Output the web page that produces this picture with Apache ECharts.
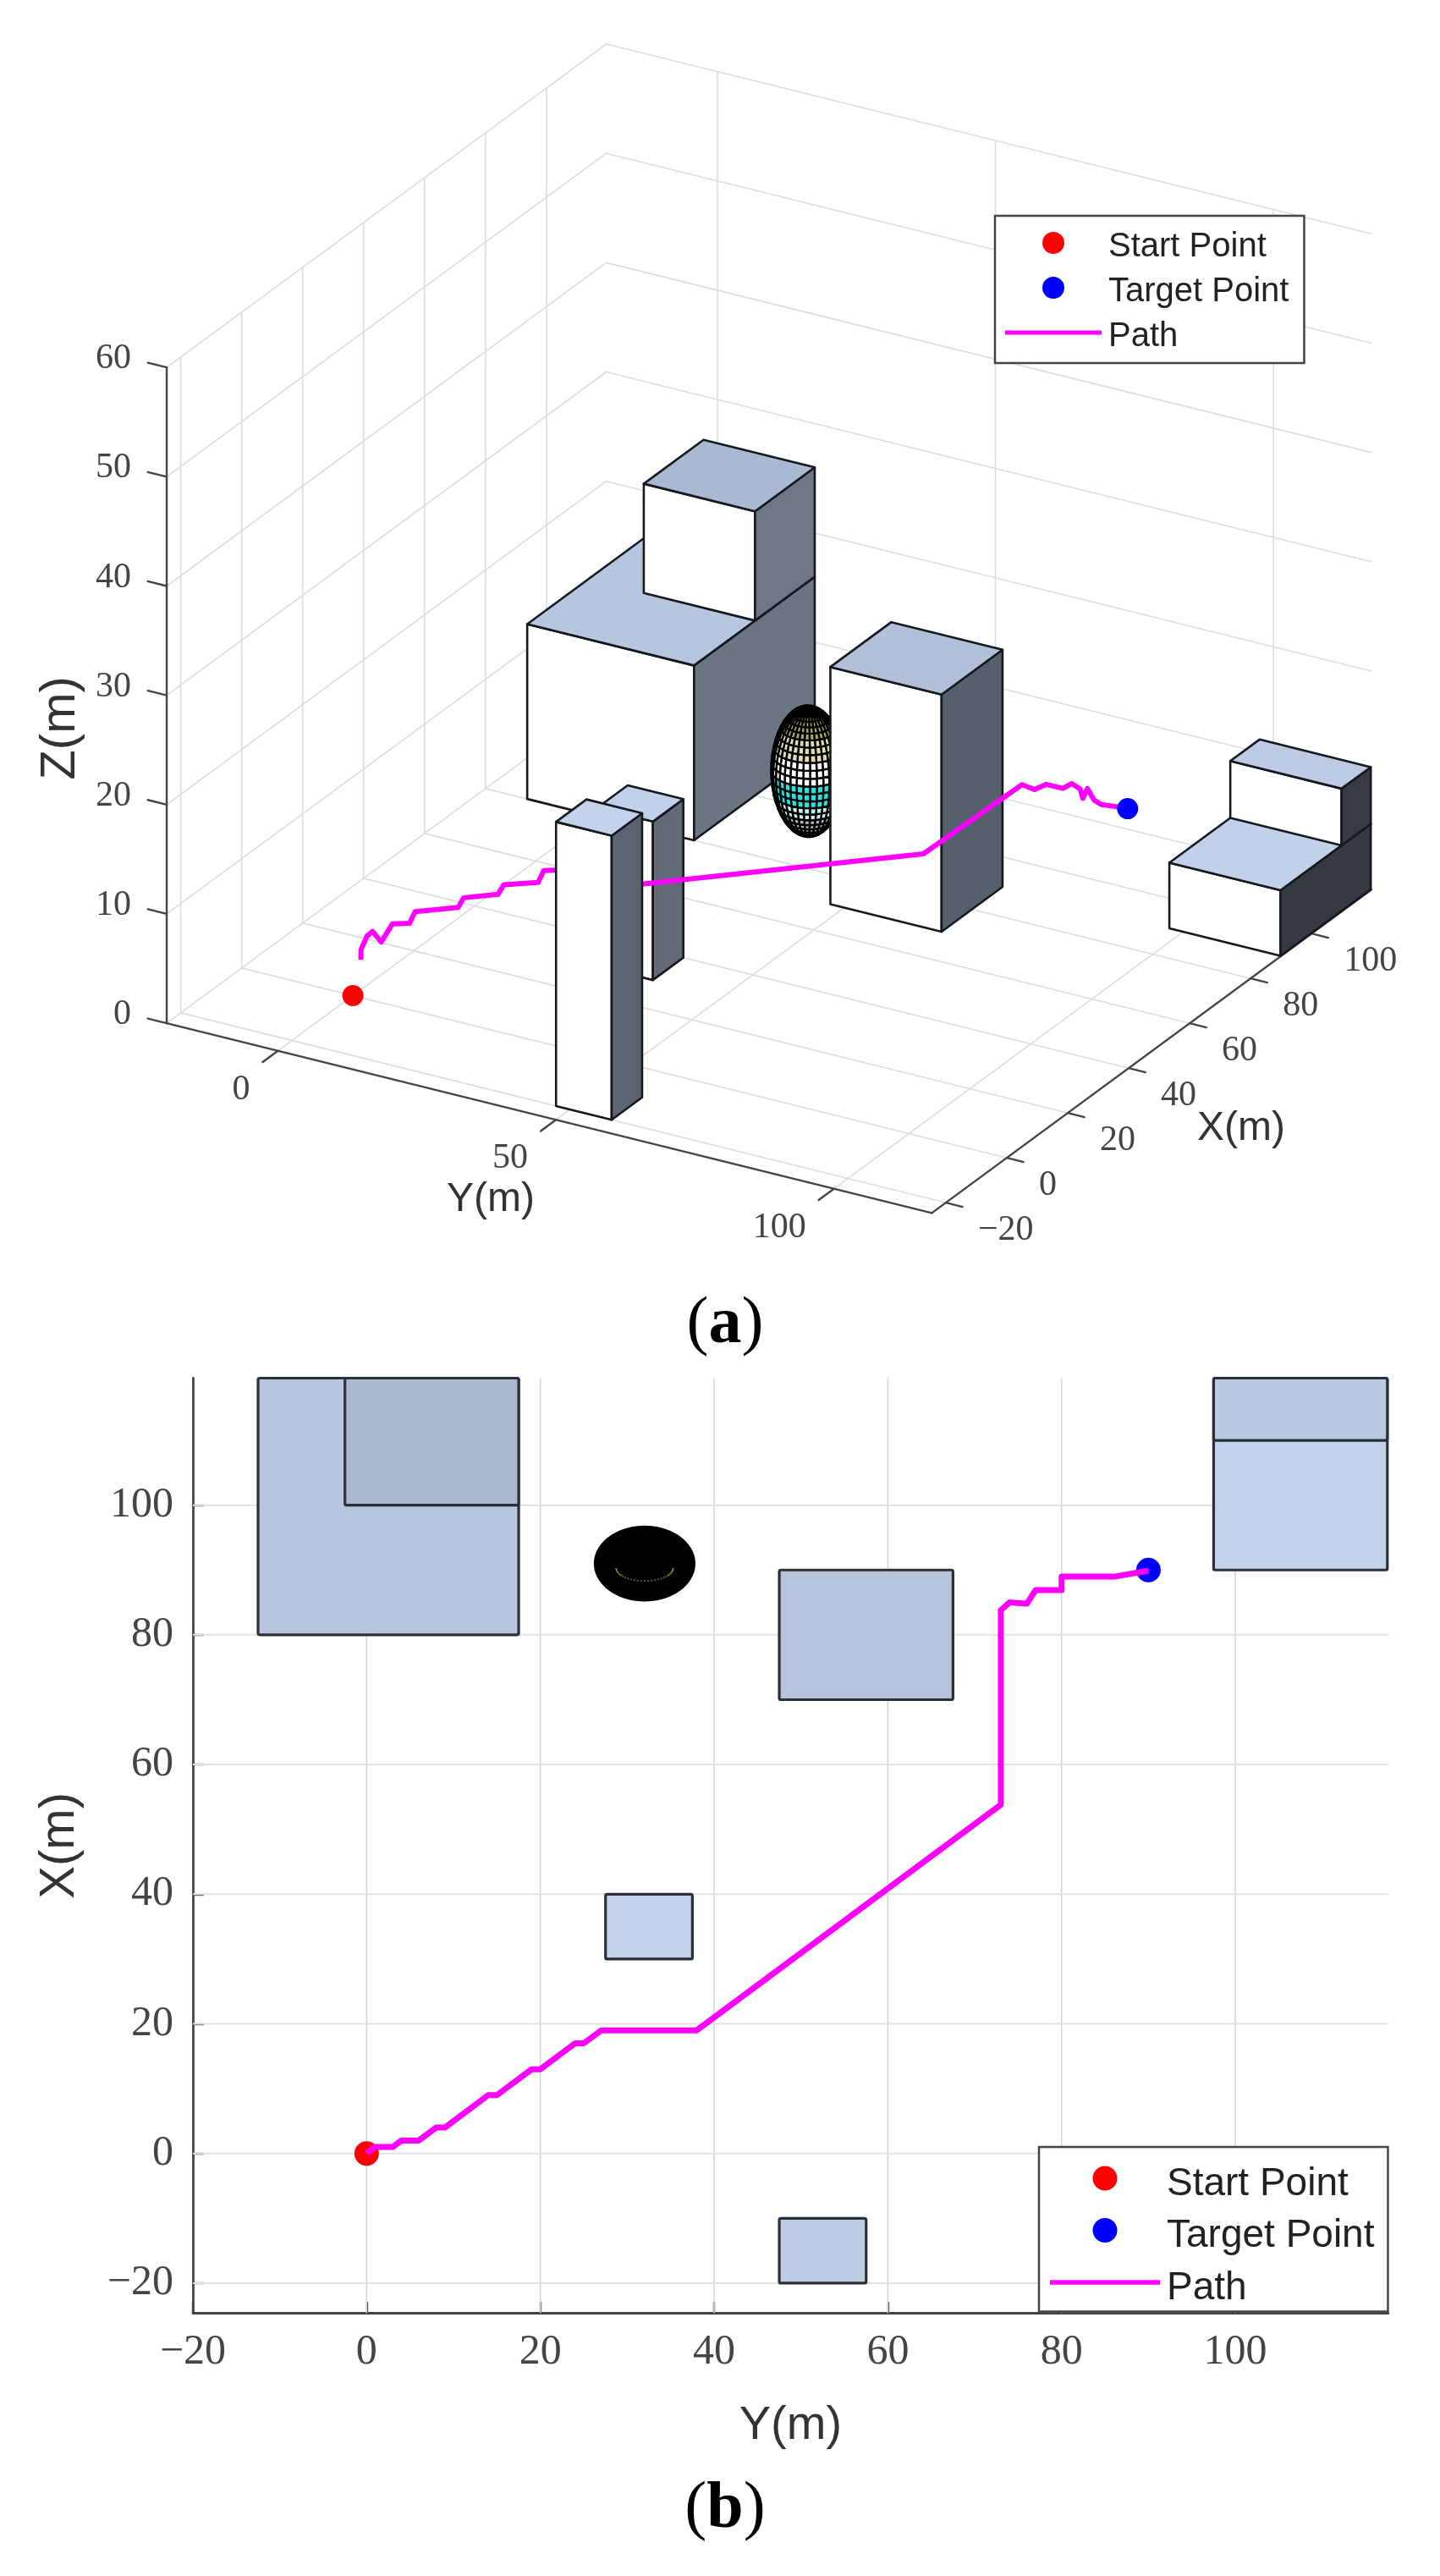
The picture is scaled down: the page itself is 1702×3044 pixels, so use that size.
<!DOCTYPE html>
<html>
<head>
<meta charset="utf-8">
<style>html,body{margin:0;padding:0;background:#fff}#chart{width:1702px;height:3044px;filter:blur(0.6px)}</style>
<script src="https://cdn.jsdelivr.net/npm/echarts@6/dist/echarts.min.js"></script>
</head>
<body>
<div id="chart"></div>
<script>
// ---------- data ----------
const legendNames = ['Start Point', 'Target Point', 'Path'];
// axis limits (metres)
const yLimits = [-20, 117.6];
const xLimits = [-24.6, 119.6];
const zLimits = [0, 60];
// tick values
const yTicksTop = [0, 50, 100];
const xTicksTop = [-20, 0, 20, 40, 60, 80, 100];
const zTicksTop = [0, 10, 20, 30, 40, 50, 60];
const yTicksPlan = [-20, 0, 20, 40, 60, 80, 100];
const xTicksPlan = [-20, 0, 20, 40, 60, 80, 100];
// obstacles: painter order, back to front
const boxYMin = [-12.5, -2.5, 47.5, 97.5, 97.5, 27.5, 47.5];
const boxYMax = [17.5, 17.5, 67.5, 117.5, 117.5, 37.5, 57.5];
const boxXMin = [80, 100, 70, 90, 110, 30, -20];
const boxXMax = [119.6, 119.6, 90, 119.6, 119.6, 40, -10];
const boxZMin = [0, 16, 0, 0, 6, 0, 0];
const boxZMax = [16, 26, 21.7, 6, 11.2, 14.5, 26];
// spherical obstacle
const sphereCentre = [91, 32, 5.9]; // X, Y, Z
const sphereRadius = 5.85;
// start and target
const startPoint = [0, 0, 0];    // X, Y, Z
const targetPoint = [90, 90, 10]; // X, Y, Z
// path seen from above (panel b)
const planPathY = [0, 0.9, 3, 4, 6, 8, 9, 14, 15, 19, 20, 24, 25, 27, 38, 73, 73, 74, 76, 77, 80, 80, 86.2, 90];
const planPathX = [0, 1, 1, 2, 2, 4, 4, 9, 9, 13, 13, 17, 17, 19, 19, 53.8, 83.8, 85, 84.8, 86.9, 86.9, 89, 89, 89.9];
// path in perspective (panel a)
const pathY = [0.9, 0.9, 2, 3, 4, 6, 8, 9, 14, 15, 19, 20, 24, 25, 27, 38, 73, 74, 76, 77, 80, 80.5, 82, 82.5, 83.3, 84.5, 85.8, 88, 90];
const pathX = [1, 1, 1, 1, 2, 2, 4, 4, 9, 9, 13, 13, 17, 17, 19, 19, 54, 84.5, 85, 87, 87, 89, 89, 89, 89, 89, 89, 89.3, 90];
const pathZ = [3.2, 4.1, 5.5, 6.05, 5, 6.9, 6.8, 8, 8, 9, 9, 10, 9.9, 11.1, 11, 10.9, 11.1, 11.3, 11, 11.2, 11.2, 11.3, 11, 10.2, 11.2, 10.3, 10.05, 10.1, 10];

// ---------- styles ----------
const topColors = ['#b7c6df', '#aab9d2', '#b2c0d7', '#c1d1e9', '#bccbe3', '#c1d1e9', '#c3d3eb'];
const sideColors = ['#6b7584', '#6d7786', '#56606c', '#363a43', '#373b44', '#626a78', '#5c6471'];
const planColors = ['#b7c6de', '#aab8ce', '#b5c4db', '#c2d2e9', '#bacae0', '#c2d2ea', '#bccce3'];
const SERIF = '"Liberation Serif"';
const SANS = '"Liberation Sans"';
const AXIS = '#444444';
const GRID = '#dddddd';

// ---------- orthographic view of panel a ----------
const view = { u0: 417.1, v0: 1176.5, ux: 3.6025, uy: 6.572, vx: -2.65, vy: 1.63, vz: -12.915 };
function project(x, y, z) {
  return [view.u0 + view.ux * x + view.uy * y, view.v0 + view.vx * x + view.vy * y + view.vz * z];
}

// custom series helper on the hidden panel-a axes
function viewSeries(name, z, rows, build) {
  return {
    type: 'custom', name, z, xAxisIndex: 1, yAxisIndex: 1, silent: true, clip: false,
    data: rows.map((_, i) => [i, 0]),
    renderItem(params, api) {
      const c = p => api.coord(project(p[0], p[1], p[2]));
      return { type: 'group', children: build(rows[params.dataIndex], c, api) };
    }
  };
}
function seg(a, b, c, color, width) {
  const p = c(a), q = c(b);
  return { type: 'line', shape: { x1: p[0], y1: p[1], x2: q[0], y2: q[1] }, style: { stroke: color, lineWidth: width, lineCap: 'round' } };
}

// ---------- panel a: walls and floor ----------
const [yLo, yHi] = yLimits, [xLo, xHi] = xLimits, [zLo, zHi] = zLimits;
const gridSegments = [];
xTicksTop.forEach(t => {
  gridSegments.push([[t, yLo, 0], [t, yHi, 0]]);
  gridSegments.push([[t, yLo, 0], [t, yLo, zHi]]);
});
yTicksTop.forEach(t => {
  gridSegments.push([[xLo, t, 0], [xHi, t, 0]]);
  gridSegments.push([[xHi, t, 0], [xHi, t, zHi]]);
});
zTicksTop.forEach(t => {
  gridSegments.push([[xLo, yLo, t], [xHi, yLo, t]]);
  gridSegments.push([[xHi, yLo, t], [xHi, yHi, t]]);
});
const axisSegments = [
  [[xLo, yLo, 0], [xLo, yLo, zHi]],
  [[xLo, yLo, 0], [xLo, yHi, 0]],
  [[xLo, yHi, 0], [xHi, yHi, 0]]
];
zTicksTop.forEach(t => axisSegments.push([[xLo, yLo, t], [xLo, yLo - 3.4, t]]));
yTicksTop.forEach(t => axisSegments.push([[xLo, t, 0], [xLo - 5, t, 0]]));
xTicksTop.forEach(t => axisSegments.push([[t, yHi, 0], [t, yHi + 3, 0]]));

const tickLabelsTop = [];
const fmt = v => (v < 0 ? '\u2212' + (-v) : String(v));
zTicksTop.forEach(t => tickLabelsTop.push({ at: [xLo, yLo, t], text: fmt(t), dx: -42, dy: -10, align: 'right' }));
yTicksTop.forEach(t => tickLabelsTop.push({ at: [xLo, t, 0], text: fmt(t), dx: -33, dy: 46, align: 'right' }));
xTicksTop.forEach(t => tickLabelsTop.push({ at: [t, yHi, 0], text: fmt(t), dx: 38, dy: 33, align: 'left' }));

function boxFaces(i, c) {
  const x0 = boxXMin[i], x1 = boxXMax[i], y0 = boxYMin[i], y1 = boxYMax[i], z0 = boxZMin[i], z1 = boxZMax[i];
  const edge = { stroke: '#15181d', lineWidth: 2.6, lineJoin: 'round' };
  const face = (pts, fill) => ({ type: 'polygon', shape: { points: pts.map(c) }, style: Object.assign({ fill }, edge) });
  return [
    face([[x0, y0, z0], [x0, y1, z0], [x0, y1, z1], [x0, y0, z1]], '#ffffff'),
    face([[x0, y1, z0], [x1, y1, z0], [x1, y1, z1], [x0, y1, z1]], sideColors[i]),
    face([[x0, y0, z1], [x0, y1, z1], [x1, y1, z1], [x1, y0, z1]], topColors[i])
  ];
}

// sphere mesh
function sphereCellColor(t) {
  if (t > 0.7) return '#a8a660';
  if (t > 0.35) return '#dedcb0';
  if (t > 0.05) return '#ffffff';
  if (t > -0.33) return '#22e6e4';
  if (t > -0.55) return '#c8f0ee';
  return '#b4b4b4';
}
const sphereRows = [];
(function () {
  const NLAT = 26, NLON = 34;
  const n = [-84.8, 46.4, 23.3], nl = Math.hypot(n[0], n[1], n[2]);
  const pt = (la, lo) => [
    sphereCentre[0] + sphereRadius * Math.cos(la) * Math.cos(lo),
    sphereCentre[1] + sphereRadius * Math.cos(la) * Math.sin(lo),
    sphereCentre[2] + sphereRadius * Math.sin(la)
  ];
  for (let i = 0; i < NLAT; i++) {
    for (let j = 0; j < NLON; j++) {
      const la0 = -Math.PI / 2 + Math.PI * i / NLAT, la1 = -Math.PI / 2 + Math.PI * (i + 1) / NLAT;
      const lo0 = 2 * Math.PI * j / NLON, lo1 = 2 * Math.PI * (j + 1) / NLON;
      const laM = (la0 + la1) / 2, loM = (lo0 + lo1) / 2;
      const d = (Math.cos(laM) * Math.cos(loM) * n[0] + Math.cos(laM) * Math.sin(loM) * n[1] + Math.sin(laM) * n[2]) / nl;
      if (d < -0.05) continue;
      sphereRows.push({ quad: [pt(la0, lo0), pt(la0, lo1), pt(la1, lo1), pt(la1, lo0)], t: Math.sin(laM) });
    }
  }
})();

const boxSeries = (name, z, idx) => viewSeries(name, z, idx, (i, c) => boxFaces(i, c));

const projectedPath = pathX.map((x, i) => project(x, pathY[i], pathZ[i]));

const series = [
  // ---- panel a ----
  viewSeries('walls', 1, gridSegments, (s, c) => [seg(s[0], s[1], c, GRID, 1.6)]),
  viewSeries('axes', 2, axisSegments, (s, c) => [seg(s[0], s[1], c, AXIS, 2.4)]),
  viewSeries('tick labels', 2, tickLabelsTop, (l, c) => {
    const p = c(l.at);
    return [{ type: 'text', x: p[0] + l.dx, y: p[1] + l.dy, style: { text: l.text, fontFamily: SERIF, fontSize: 42, fill: '#444444', align: l.align, verticalAlign: 'middle' } }];
  }),
  boxSeries('obstacles back', 3, [0, 1]),
  viewSeries('sphere', 4, sphereRows, (r, c) => [{
    type: 'polygon', shape: { points: r.quad.map(c) },
    style: { fill: sphereCellColor(r.t), stroke: '#000000', lineWidth: 2.4, lineJoin: 'round' }
  }]),
  boxSeries('obstacles mid', 5, [2, 3, 4, 5]),
  {
    type: 'line', name: 'Path', xAxisIndex: 1, yAxisIndex: 1, z: 6, clip: false, symbol: 'none', silent: true,
    data: projectedPath, lineStyle: { color: '#ff00ff', width: 6, join: 'round' }, itemStyle: { color: '#ff00ff' }
  },
  boxSeries('obstacle front', 7, [6]),
  {
    type: 'scatter', name: 'Start Point', xAxisIndex: 1, yAxisIndex: 1, z: 7, clip: false, silent: true, symbol: 'circle', symbolSize: 25,
    data: [project(startPoint[0], startPoint[1], startPoint[2])], itemStyle: { color: '#ff0000', opacity: 1 }
  },
  {
    type: 'scatter', name: 'Target Point', xAxisIndex: 1, yAxisIndex: 1, z: 7, clip: false, silent: true, symbol: 'circle', symbolSize: 25,
    data: [project(targetPoint[0], targetPoint[1], targetPoint[2])], itemStyle: { color: '#0000ff', opacity: 1 }
  },
  // ---- panel b ----
  {
    type: 'custom', name: 'plan grid', xAxisIndex: 0, yAxisIndex: 0, z: 1, silent: true, clip: false,
    data: yTicksPlan.filter(v => v !== yLimits[0]).map(v => [v, 0, 0]).concat(xTicksPlan.map(v => [0, v, 1])),
    renderItem(params, api) {
      const vertical = api.value(2) === 0;
      const a = vertical ? api.coord([api.value(0), xLo]) : api.coord([yLo, api.value(1)]);
      const b = vertical ? api.coord([api.value(0), xHi]) : api.coord([yHi, api.value(1)]);
      return { type: 'line', shape: { x1: a[0], y1: a[1], x2: b[0], y2: b[1] }, style: { stroke: vertical ? '#d6d6d6' : '#e2e2e2', lineWidth: vertical ? 1.6 : 2 } };
    }
  },
  {
    type: 'custom', name: 'plan obstacles', xAxisIndex: 0, yAxisIndex: 0, z: 3, silent: true, clip: false,
    data: boxYMin.map((v, i) => [v, boxXMin[i], boxYMax[i], boxXMax[i], i]),
    renderItem(params, api) {
      const a = api.coord([api.value(0), api.value(3)]), b = api.coord([api.value(2), api.value(1)]);
      return { type: 'rect', shape: { x: a[0], y: a[1], width: b[0] - a[0], height: b[1] - a[1], r: 2 }, style: { fill: planColors[api.value(4)], stroke: '#2c3036', lineWidth: 3.2 } };
    }
  },
  {
    type: 'custom', name: 'plan sphere', xAxisIndex: 0, yAxisIndex: 0, z: 3, silent: true, clip: false,
    data: [[sphereCentre[1], sphereCentre[0], sphereRadius]],
    renderItem(params, api) {
      const cy = api.value(0), cx = api.value(1), r = api.value(2), pts = [], kids = [];
      for (let a = 0; a < 72; a++) {
        const t = a / 72 * 2 * Math.PI;
        pts.push(api.coord([cy + r * Math.cos(t), cx + r * Math.sin(t)]));
      }
      kids.push({ type: 'polygon', shape: { points: pts }, style: { fill: '#000000' } });
      for (let a = 0; a < 25; a++) {
        const t = Math.PI * (1.02 + a / 24 * 0.96);
        const p = api.coord([cy + 0.56 * r * Math.cos(t), cx - 0.12 * r + 0.34 * r * Math.sin(t)]);
        const edge = a < 5 || a > 19;
        kids.push({ type: 'rect', shape: { x: p[0] - 1, y: p[1] - 1, width: 2, height: 2 }, style: { fill: edge ? '#8f8a10' : '#5a5a30' } });
      }
      return { type: 'group', children: kids };
    }
  },
  {
    type: 'line', name: 'Path', xAxisIndex: 0, yAxisIndex: 0, z: 5, symbol: 'none', silent: true, clip: false,
    data: planPathY.map((v, i) => [v, planPathX[i]]), lineStyle: { color: '#ff00ff', width: 7, join: 'round' }, itemStyle: { color: '#ff00ff' }
  },
  {
    type: 'scatter', name: 'Start Point', xAxisIndex: 0, yAxisIndex: 0, z: 4, silent: true, symbol: 'circle', symbolSize: 29,
    data: [[startPoint[1], startPoint[0]]], itemStyle: { color: '#ff0000', opacity: 1 }
  },
  {
    type: 'scatter', name: 'Target Point', xAxisIndex: 0, yAxisIndex: 0, z: 4, silent: true, symbol: 'circle', symbolSize: 29,
    data: [[targetPoint[1], targetPoint[0]]], itemStyle: { color: '#0000ff', opacity: 1 }
  },
  // axis titles of panel a, placed in the view
  viewSeries('titles', 8, [
    { text: 'Y(m)', at: [xLo, 50, 0], dx: -77, dy: 95, rot: 0 },
    { text: 'X(m)', at: [40, yHi, 0], dx: 133, dy: 72, rot: 0 },
    { text: 'Z(m)', at: [xLo, yLo, 27], dx: -125, dy: 0, rot: Math.PI / 2 }
  ], (l, c) => {
    const p = c(l.at);
    return [{ type: 'text', x: p[0] + l.dx, y: p[1] + l.dy, rotation: l.rot, style: { text: l.text, fontFamily: SANS, fontSize: l.rot ? 58 : 48, fill: '#333333', align: 'center', verticalAlign: 'middle' } }];
  })
];

const legendEntries = [
  { name: legendNames[0] },
  { name: legendNames[1] },
  { name: legendNames[2], icon: 'path://M0,0L100,0L100,4.2L0,4.2Z', itemStyle: { color: '#ff00ff' } }
];
const legendBase = {
  orient: 'vertical', align: 'left', backgroundColor: '#ffffff', borderColor: AXIS, borderWidth: 2.5, z: 20,
  selectedMode: false, data: legendEntries, symbolKeepAspect: true, formatter: '{t|{name}}'
};
const captionRich = {
  p: { fontFamily: SERIF, fontSize: 78, fontWeight: 'normal', color: '#000' },
  b: { fontFamily: SERIF, fontSize: 78, fontWeight: 'bold', color: '#000' }
};

const option = {
  animation: false,
  backgroundColor: '#ffffff',
  title: [
    { left: 852, top: 1522, textAlign: 'center', text: '{p|(}{b|a}{p|)}', textStyle: { fontWeight: 'normal', rich: captionRich } },
    { left: 852, top: 2922, textAlign: 'center', text: '{p|(}{b|b}{p|)}', textStyle: { fontWeight: 'normal', rich: captionRich } }
  ],
  legend: [
    Object.assign({}, legendBase, {
      left: 1176, top: 255, itemWidth: 114, itemHeight: 26, itemGap: 13, padding: [17, 18, 11, 12],
      textStyle: { fontFamily: SANS, fontSize: 40, color: '#222', rich: { t: { fontFamily: SANS, fontSize: 40, color: '#222', padding: [10, 0, 0, 3] } } }
    }),
    Object.assign({}, legendBase, {
      left: 1228, top: 2537, itemWidth: 130, itemHeight: 29, itemGap: 15.5, padding: [21, 16, 4.5, 13],
      textStyle: { fontFamily: SANS, fontSize: 46, color: '#222', rich: { t: { fontFamily: SANS, fontSize: 46, color: '#222', padding: [14, 0, 0, 3] } } }
    })
  ],
  grid: [
    { left: 228, top: 1628.5, width: 1412.8, height: 1104.7, containLabel: false },
    { left: 0, top: 0, width: 1702, height: 3044, containLabel: false }
  ],
  xAxis: [
    {
      type: 'value', gridIndex: 0, min: yLimits[0], max: yLimits[1], position: 'bottom',
      name: 'Y(m)', nameLocation: 'middle', nameGap: 105, nameTextStyle: { fontFamily: SANS, fontSize: 56, color: '#333' },
      axisLine: { show: true, onZero: false, lineStyle: { color: AXIS, width: 2.8 } },
      axisTick: { show: true, inside: true, length: 13, customValues: yTicksPlan, lineStyle: { color: AXIS, width: 2.4 } },
      axisLabel: { show: true, customValues: yTicksPlan, formatter: fmt, margin: 22, fontFamily: SERIF, fontSize: 50, color: '#444' },
      splitLine: { show: false }
    },
    { type: 'value', gridIndex: 1, min: 0, max: 1702, show: false, splitLine: { show: false } }
  ],
  yAxis: [
    {
      type: 'value', gridIndex: 0, min: xLimits[0], max: xLimits[1], position: 'left',
      name: 'X(m)', nameLocation: 'middle', nameGap: 128, nameRotate: 90, nameTextStyle: { fontFamily: SANS, fontSize: 58, color: '#333' },
      axisLine: { show: true, onZero: false, lineStyle: { color: AXIS, width: 2.8 } },
      axisTick: { show: true, inside: true, length: 13, customValues: xTicksPlan, lineStyle: { color: AXIS, width: 2.4 } },
      axisLabel: { show: true, customValues: xTicksPlan, formatter: fmt, margin: 23, fontFamily: SERIF, fontSize: 50, color: '#444' },
      splitLine: { show: false }
    },
    { type: 'value', gridIndex: 1, min: 0, max: 3044, inverse: true, show: false, splitLine: { show: false } }
  ],
  series
};

const chart = echarts.init(document.getElementById('chart'), null, { renderer: 'canvas', width: 1702, height: 3044 });
chart.setOption(option);
</script>
</body>
</html>
